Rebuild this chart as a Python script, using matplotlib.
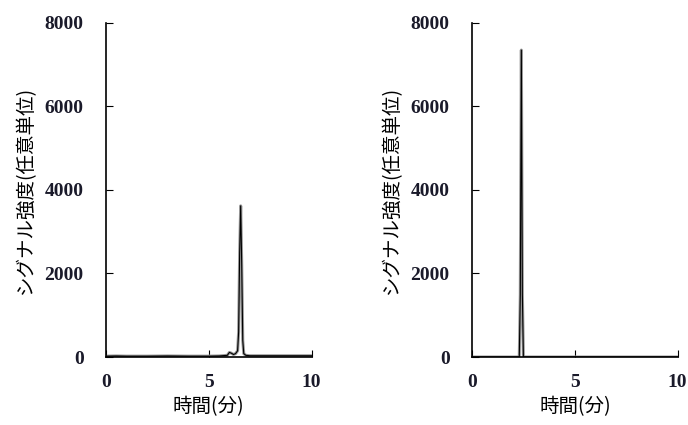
import matplotlib.pyplot as plt

# left chromatogram
t_left = [0.0, 0.5, 1.0, 2.0, 3.0, 4.0, 5.0, 5.5, 5.9, 6.0, 6.1, 6.2, 6.3, 6.4,
          6.45, 6.5, 6.55, 6.6, 6.65, 6.7, 6.8, 7.0, 8.0, 9.0, 10.0]
s_left = [20, 25, 20, 20, 25, 20, 20, 25, 40, 110, 90, 60, 80, 150,
          600, 2500, 3620, 2200, 400, 80, 40, 30, 30, 30, 30]

# right chromatogram
t_right = [0.0, 1.0, 2.0, 2.3, 2.35, 2.4, 2.45, 2.5, 2.6, 3.0, 5.0, 7.0, 10.0]
s_right = [0, 0, 0, 0, 1500, 7350, 1500, 0, 0, 0, 0, 0, 0]

yticks = [0, 2000, 4000, 6000, 8000]
xticks = [0, 5, 10]
ylabel = "シグナル強度(任意単位)"
xlabel = "時間(分)"

fig = plt.figure(figsize=(6.88, 4.25), dpi=100)
jp = ["Noto Sans CJK JP", "DejaVu Sans"]

for left, (t, s) in zip([0.154, 0.686], [(t_left, s_left), (t_right, s_right)]):
    ax = fig.add_axes([left, 0.16, 0.299, 0.786])
    ax.plot(t, s, color="#999999", lw=2.2)
    ax.plot(t, s, color="black", lw=0.8)
    ax.set_xlim(0, 10)
    ax.set_ylim(0, 8000)
    ax.set_xticks(xticks)
    ax.set_yticks(yticks)
    for sp in ["top", "right"]:
        ax.spines[sp].set_visible(False)
    for sp in ["left", "bottom"]:
        ax.spines[sp].set_linewidth(1.2)
    ax.tick_params(axis="y", direction="in", length=5, pad=16)
    ax.tick_params(axis="x", direction="in", length=5, pad=12)
    for lab in ax.get_xticklabels() + ax.get_yticklabels():
        lab.set_fontfamily("Liberation Serif")
        lab.set_fontweight("bold")
        lab.set_fontsize(14)
        lab.set_color("#1a1a2a")
    ax.set_ylabel(ylabel, family=jp, fontsize=14, labelpad=6)
    ax.set_xlabel(xlabel, family=jp, fontsize=14, labelpad=4)

fig.savefig("out.png", dpi=100)
